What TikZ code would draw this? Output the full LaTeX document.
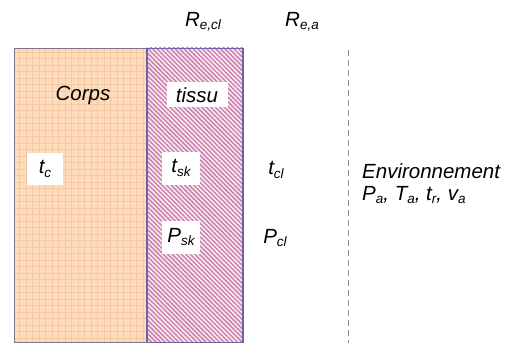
\documentclass[tikz,border=0pt]{standalone}
\usepackage{fontspec}
\setmainfont{Liberation Sans}
\usetikzlibrary{patterns.meta}

\definecolor{corpsfill}{HTML}{FDDBBB}
\definecolor{corpsgrid}{HTML}{F4C8A4}
\definecolor{tissufill}{HTML}{FAEEF5}
\definecolor{tissuline}{HTML}{CC80AE}
\definecolor{edge}{HTML}{6E62A8}
\definecolor{dashgray}{HTML}{8C8C8C}

% small lowered index, in the current font
\newcommand{\idx}[1]{\raisebox{-0.3ex}{\fontsize{13.5}{14}\selectfont #1}}

\tikzset{
  lbl/.style={font=\fontsize{20.5}{22}\selectfont\itshape, inner sep=0pt},
  whitebox/.style={lbl, fill=white, minimum width=38pt, minimum height=33pt},
}

\begin{document}
\begin{tikzpicture}[x=1pt,y=-1pt]
\useasboundingbox (0,0) rectangle (510,358);

% corners of the two layers
\node[coordinate] (corpsnw) at (14,48) {};
\node[coordinate] (corpsse) at (147,342) {};
\node[coordinate] (tissunw) at (147,48) {};
\node[coordinate] (tissusw) at (147,342) {};
\node[coordinate] (tissune) at (243,48) {};
\node[coordinate] (tissuse) at (243,342) {};
% ends of the dashed boundary
\node[coordinate] (envtop) at (348,50) {};
\node[coordinate] (envbot) at (348,343) {};

% corps: orange squared paper
\fill[corpsfill] (corpsnw) rectangle (corpsse);
\draw[corpsgrid, step=6.5pt, line width=0.3pt] (corpsnw) grid (corpsse);
\draw[gray!70!edge, line width=0.6pt] (corpsnw) rectangle (corpsse);

% tissu: hatched layer
\fill[tissufill] (tissunw) rectangle (tissuse);
\fill[pattern={Lines[angle=-45,distance=3.2pt,line width=1.5pt]}, pattern color=tissuline] (tissunw) rectangle (tissuse);
\draw[edge, line width=0.6pt] (tissunw) rectangle (tissuse);
\draw[edge, line width=2.5pt] (tissunw) -- (tissusw)  (tissune) -- (tissuse);

\draw[dashgray, dash pattern=on 6pt off 4pt, line width=0.8pt] (envtop) -- (envbot);

\node[lbl] (corps) at (83,95) {Corps};
\node[whitebox, minimum width=61pt, minimum height=25pt] (tissu) at (197,95) {tissu};
\node[whitebox, minimum width=36pt, minimum height=32pt] (tc) at (45,169) {t\idx{c}};
\node[whitebox] (tsk) at (181,168) {t\idx{sk}};
\node[whitebox] (psk) at (181,237) {P\idx{sk}};
\node[lbl] (tcl) at (276,170) {t\idx{cl}};
\node[lbl] (pcl) at (275,238) {P\idx{cl}};
\node[lbl] (recl) at (203,22) {R\idx{e,cl}};
\node[lbl] (rea) at (302,22) {R\idx{e,a}};
\node[lbl, anchor=north west, align=left] (env) at (362,163)
  {Environnement\\P\idx{a}, T\idx{a}, t\idx{r}, v\idx{a}};
\end{tikzpicture}
\end{document}
